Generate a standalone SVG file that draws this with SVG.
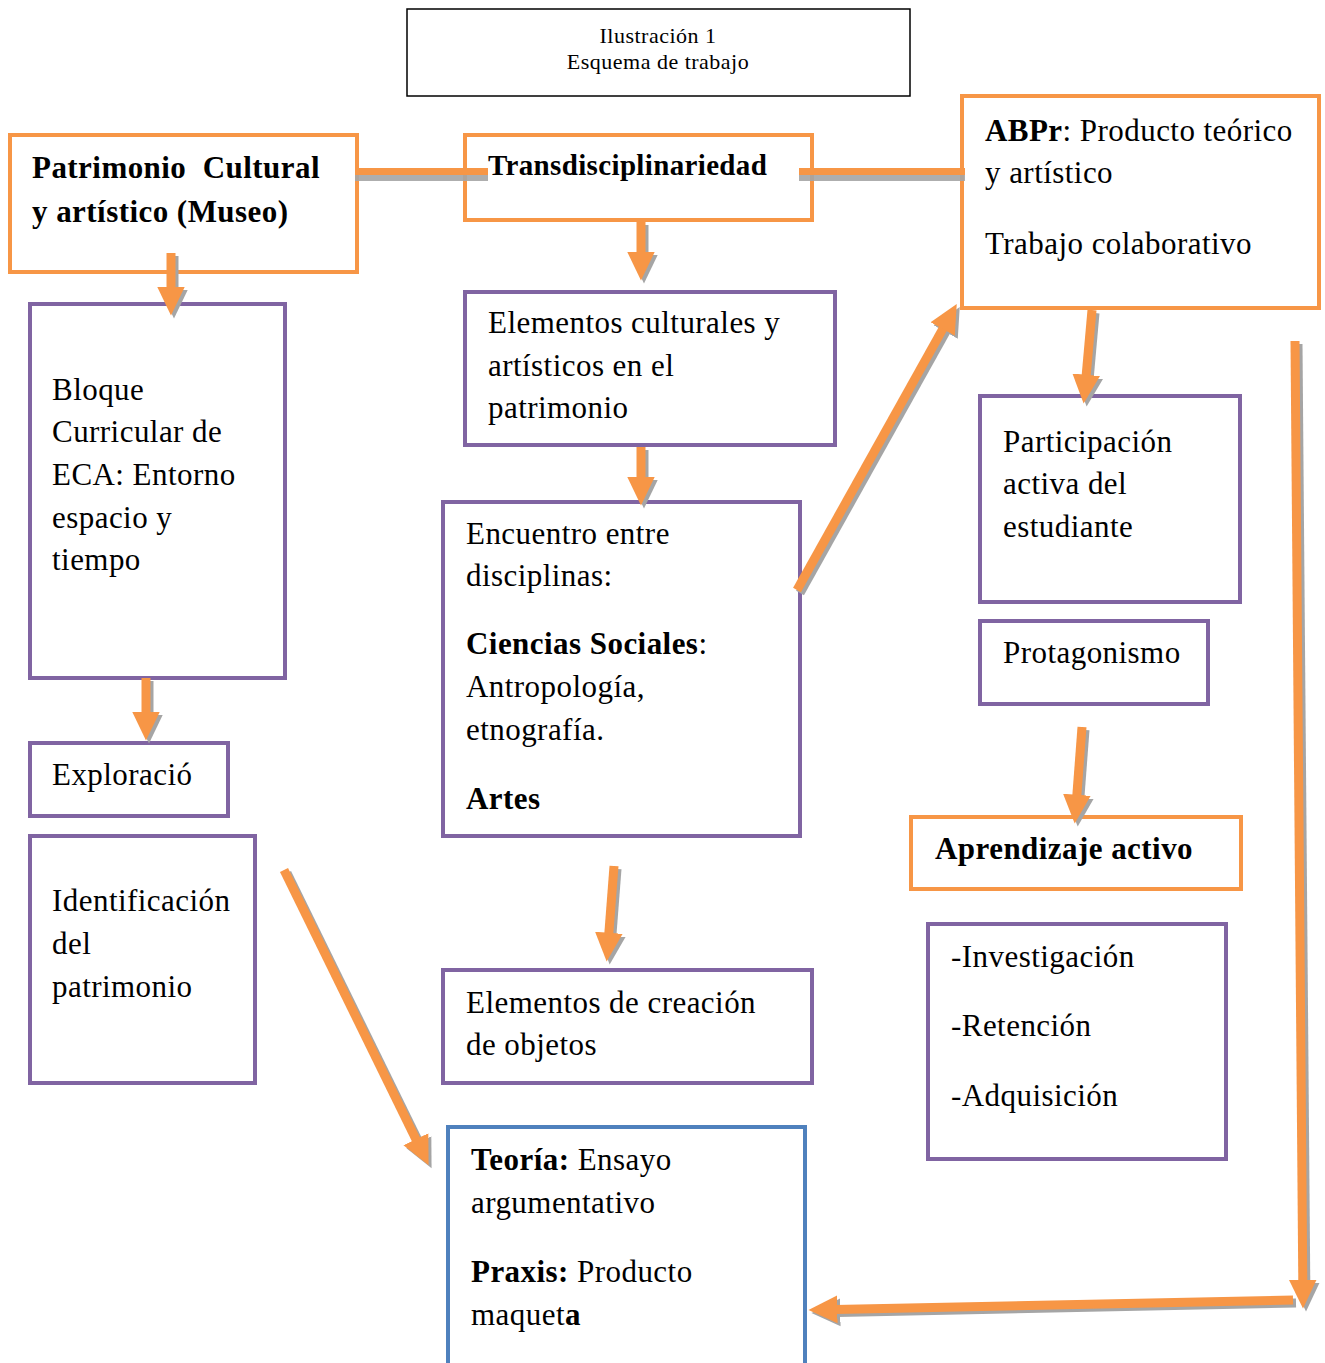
<svg xmlns="http://www.w3.org/2000/svg" width="1325" height="1363" viewBox="0 0 1325 1363">
<style>
.t{font-family:"Liberation Serif","Times New Roman",serif;font-size:31px;letter-spacing:0.45px;fill:#000}
.b{font-weight:bold}
.ttl{font-family:"Liberation Serif","Times New Roman",serif;font-size:22px;letter-spacing:0.5px;fill:#000;text-anchor:middle}
.or{fill:#fff;stroke:#F79646;stroke-width:4}
.pu{fill:#fff;stroke:#8064A2;stroke-width:4}
.bl{fill:#fff;stroke:#4F81BD;stroke-width:4}
.sh{stroke:#A5A5A5;stroke-width:9;fill:none}
.ar{stroke:#F79646;stroke-width:9;fill:none}
</style>
<defs>
<marker id="hO" markerUnits="userSpaceOnUse" markerWidth="30" markerHeight="30" refX="2" refY="12" orient="auto" viewBox="0 0 26 24"><path d="M0,0 L25,12 L0,24 Z" fill="#F79646"/></marker>
<marker id="hS" markerUnits="userSpaceOnUse" markerWidth="30" markerHeight="30" refX="2" refY="12" orient="auto" viewBox="0 0 26 24"><path d="M0,0 L25,12 L0,24 Z" fill="#A5A5A5"/></marker>
</defs>

<g id="title">
<rect x="407" y="9" width="503" height="87" fill="#fff" stroke="#000" stroke-width="1.5"/>
<text class="ttl" x="658" y="43">Ilustración 1</text>
<text class="ttl" x="658" y="69">Esquema de trabajo</text>
</g>

<g id="patrimonio">
<rect class="or" x="10" y="135" width="347" height="137"/>
<text class="t b" x="32" y="178">Patrimonio&#160; Cultural</text>
<text class="t b" x="32" y="222">y artístico (Museo)</text>
</g>

<g id="transdisciplinariedad">
<rect class="or" x="465" y="135" width="347" height="85"/>
<text class="t b" x="488" y="175" style="font-size:29px;letter-spacing:0.35px">Transdisciplinariedad</text>
</g>

<g id="abpr">
<rect class="or" x="962" y="96" width="357" height="212"/>
<text class="t" x="985" y="141"><tspan class="b">ABPr</tspan>: Producto teórico</text>
<text class="t" x="985" y="183">y artístico</text>
<text class="t" x="985" y="254">Trabajo colaborativo</text>
</g>

<g id="bloque">
<rect class="pu" x="30" y="304" width="255" height="374"/>
<text class="t" x="52" y="400">Bloque</text>
<text class="t" x="52" y="442">Curricular de</text>
<text class="t" x="52" y="485">ECA: Entorno</text>
<text class="t" x="52" y="528">espacio y</text>
<text class="t" x="52" y="570">tiempo</text>
</g>

<g id="elementos-culturales">
<rect class="pu" x="465" y="292" width="370" height="153"/>
<text class="t" x="488" y="333">Elementos culturales y</text>
<text class="t" x="488" y="376">artísticos en el</text>
<text class="t" x="488" y="418">patrimonio</text>
</g>

<g id="encuentro">
<rect class="pu" x="443" y="502" width="357" height="334"/>
<text class="t" x="466" y="544">Encuentro entre</text>
<text class="t" x="466" y="586">disciplinas:</text>
<text class="t" x="466" y="654"><tspan class="b">Ciencias Sociales</tspan>:</text>
<text class="t" x="466" y="697">Antropología,</text>
<text class="t" x="466" y="740">etnografía.</text>
<text class="t b" x="466" y="809">Artes</text>
</g>

<g id="exploracion">
<rect class="pu" x="30" y="743" width="198" height="73"/>
<text class="t" x="52" y="785">Exploració</text>
</g>

<g id="identificacion">
<rect class="pu" x="30" y="836" width="225" height="247"/>
<text class="t" x="52" y="911">Identificación</text>
<text class="t" x="52" y="954">del</text>
<text class="t" x="52" y="997">patrimonio</text>
</g>

<g id="elementos-creacion">
<rect class="pu" x="443" y="970" width="369" height="113"/>
<text class="t" x="466" y="1013">Elementos de creación</text>
<text class="t" x="466" y="1055">de objetos</text>
</g>

<g id="teoria">
<rect class="bl" x="448" y="1127" width="357" height="250"/>
<text class="t" x="471" y="1170"><tspan class="b">Teoría:</tspan> Ensayo</text>
<text class="t" x="471" y="1213">argumentativo</text>
<text class="t" x="471" y="1282"><tspan class="b">Praxis:</tspan> Producto</text>
<text class="t" x="471" y="1325">maquet<tspan class="b">a</tspan></text>
</g>

<g id="participacion">
<rect class="pu" x="980" y="396" width="260" height="206"/>
<text class="t" x="1003" y="452">Participación</text>
<text class="t" x="1003" y="494">activa del</text>
<text class="t" x="1003" y="537">estudiante</text>
</g>

<g id="protagonismo">
<rect class="pu" x="980" y="621" width="228" height="83"/>
<text class="t" x="1003" y="663">Protagonismo</text>
</g>

<g id="aprendizaje">
<rect class="or" x="911" y="817" width="330" height="72"/>
<text class="t b" x="935" y="859">Aprendizaje activo</text>
</g>

<g id="investigacion">
<rect class="pu" x="928" y="924" width="298" height="235"/>
<text class="t" x="951" y="967">-Investigación</text>
<text class="t" x="951" y="1036">-Retención</text>
<text class="t" x="951" y="1106">-Adquisición</text>
</g>

<g id="connectors">
<rect x="355" y="174" width="133" height="7" fill="#A5A5A5" fill-opacity="0.9"/>
<rect x="355" y="168" width="133" height="7" fill="#F79646"/>
<rect x="799" y="174" width="166" height="7" fill="#A5A5A5" fill-opacity="0.9"/>
<rect x="799" y="168" width="166" height="7" fill="#F79646"/>
<g class="sh" transform="translate(3,3)" marker-end="url(#hS)">
<line x1="171" y1="253" x2="171" y2="289"/>
<line x1="641" y1="222" x2="641" y2="254"/>
<line x1="641" y1="447" x2="641" y2="479"/>
<line x1="146" y1="678" x2="146" y2="714"/>
<line x1="614" y1="866" x2="608.7" y2="935.1"/>
<line x1="797" y1="590" x2="943.8" y2="327.1"/>
<line x1="1092" y1="310" x2="1086" y2="377.1"/>
<line x1="1082" y1="727" x2="1076.7" y2="797.1"/>
<line x1="284" y1="870" x2="416.9" y2="1141.3"/>
<line x1="1295" y1="341" x2="1302.8" y2="1282"/>
<line x1="1293" y1="1300" x2="835" y2="1309.5"/>
</g>
<g class="ar" marker-end="url(#hO)">
<line x1="171" y1="253" x2="171" y2="289"/>
<line x1="641" y1="222" x2="641" y2="254"/>
<line x1="641" y1="447" x2="641" y2="479"/>
<line x1="146" y1="678" x2="146" y2="714"/>
<line x1="614" y1="866" x2="608.7" y2="935.1"/>
<line x1="797" y1="590" x2="943.8" y2="327.1"/>
<line x1="1092" y1="310" x2="1086" y2="377.1"/>
<line x1="1082" y1="727" x2="1076.7" y2="797.1"/>
<line x1="284" y1="870" x2="416.9" y2="1141.3"/>
<line x1="1295" y1="341" x2="1302.8" y2="1282"/>
<line x1="1293" y1="1300" x2="835" y2="1309.5"/>
</g>
</g>
</svg>
